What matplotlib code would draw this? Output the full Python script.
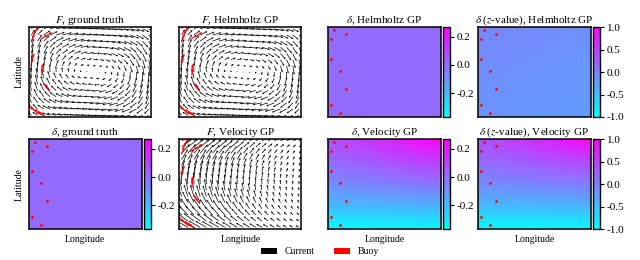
import matplotlib.pyplot as plt
import numpy as np
from matplotlib.patches import Patch

plt.rcParams['font.family'] = 'serif'
plt.rcParams['font.serif'] = ['Liberation Serif', 'DejaVu Serif']
plt.rcParams['mathtext.fontset'] = 'stix'

# grid of the current field
lon = np.linspace(0.02, 0.98, 20)
lat = np.linspace(0.02, 0.98, 15)

# ground truth gyre: stream function profiles along lon and lat
gt_fx = [0.28, 0.43, 0.56, 0.67, 0.76, 0.83, 0.89, 0.94, 0.97, 0.99,
         1.0, 1.0, 0.98, 0.95, 0.9, 0.84, 0.76, 0.66, 0.54, 0.40]
gt_fy = [0.30, 0.46, 0.60, 0.72, 0.82, 0.90, 0.96, 0.99, 0.97, 0.92,
         0.84, 0.74, 0.62, 0.48, 0.32]
# Helmholtz GP reconstruction (almost the same)
hh_fx = [0.29, 0.44, 0.57, 0.68, 0.77, 0.84, 0.90, 0.94, 0.97, 0.99,
         1.0, 0.99, 0.97, 0.94, 0.89, 0.83, 0.75, 0.65, 0.54, 0.41]
hh_fy = [0.31, 0.47, 0.61, 0.73, 0.83, 0.91, 0.96, 0.99, 0.97, 0.92,
         0.84, 0.74, 0.62, 0.49, 0.34]

# velocity GP: u and v profiles
vg_ux = [1.0, 0.99, 0.97, 0.94, 0.9, 0.86, 0.81, 0.76, 0.71, 0.66,
         0.61, 0.56, 0.51, 0.47, 0.43, 0.39, 0.36, 0.33, 0.3, 0.28]
vg_uy = [-1.0, -0.86, -0.72, -0.58, -0.45, -0.32, -0.18, -0.04, 0.1, 0.24,
         0.38, 0.52, 0.66, 0.82, 1.0]
vg_vx = [1.0, 1.0, 0.98, 0.96, 0.93, 0.89, 0.85, 0.8, 0.75, 0.7,
         0.65, 0.6, 0.55, 0.5, 0.45, 0.41, 0.37, 0.33, 0.3, 0.27]
vg_vy = [0.55, 0.65, 0.75, 0.84, 0.91, 0.96, 0.99, 1.0, 0.99, 0.96,
         0.91, 0.84, 0.75, 0.65, 0.55]

# buoys (start points) and their observations
buoy_lon = [0.054, 0.16, 0.03, 0.03, 0.107, 0.16, 0.03, 0.107]
buoy_lat = [0.97, 0.92, 0.87, 0.64, 0.51, 0.31, 0.13, 0.05]
obs_lon = [0.018, 0.03, 0.042, 0.054, 0.09, 0.13, 0.015, 0.025,
           0.105, 0.107, 0.17, 0.155, 0.07, 0.035, 0.13, 0.107]
obs_lat = [0.83, 0.88, 0.92, 0.96, 0.86, 0.89, 0.57, 0.62,
           0.46, 0.50, 0.28, 0.31, 0.04, 0.09, 0.01, 0.04]
obs_u = [0.35, 0.35, 0.5, 0.5, 0.9, 0.9, 0.25, 0.25,
         0.0, 0.0, -0.6, -0.6, -0.9, -0.9, -1.0, -1.0]
obs_v = [1.0, 1.0, 0.9, 0.9, 0.6, 0.6, 1.0, 1.0,
         1.0, 1.0, 0.8, 0.8, 0.8, 0.8, 0.5, 0.5]

# divergence fields (rows: lat bottom -> top, cols: lon left -> right)
gt_delta = [[0.0, 0.0], [0.0, 0.0]]
hh_delta = [[0.0, 0.0], [0.0, 0.0]]
hh_z = [[-0.16, -0.19, -0.23],
        [-0.11, -0.15, -0.19],
        [-0.05, -0.09, -0.13]]
vg_delta = [[-0.37, -0.36, -0.35],
            [-0.20, -0.19, -0.18],
            [-0.08, -0.05, -0.02],
            [0.0, 0.06, 0.12],
            [0.06, 0.17, 0.27]]
vg_z = [[-1.0, -0.98, -0.95],
        [-0.47, -0.45, -0.42],
        [-0.10, -0.03, 0.03],
        [0.15, 0.30, 0.45],
        [0.33, 0.66, 0.98]]

d_lim = (-0.37, 0.27)
z_lim = (-1.0, 1.0)

fig = plt.figure(figsize=(6.4, 2.6), dpi=100)

rows_y = [0.55, 0.119]
h = 0.346
cols = [0.0453, 0.280, 0.5125, 0.747]


def stream_uv(fx, fy):
    psi = np.outer(fy, fx)
    dpy, dpx = np.gradient(psi)
    return -dpy, dpx


def frame(ax):
    ax.set_xticks([])
    ax.set_yticks([])
    ax.set_xlim(0, 1)
    ax.set_ylim(0, 1)
    for s in ax.spines.values():
        s.set_linewidth(1.1)


def quiver_panel(x0, y0, u, v, scale, title):
    ax = fig.add_axes([x0, y0, 0.191, h])
    X, Y = np.meshgrid(lon, lat)
    ax.quiver(X, Y, u, v, angles='uv', scale_units='width', scale=scale,
              units='width', width=0.0058, headwidth=3, headlength=3,
              headaxislength=2.7, color='black')
    ax.quiver(obs_lon, obs_lat, obs_u, obs_v, angles='uv', scale_units='width',
              scale=15, units='width', width=0.009, headwidth=2.5,
              headlength=3, headaxislength=2.7, color='red')
    frame(ax)
    ax.set_title(title, fontsize=8, pad=2)
    return ax


def field_panel(x0, y0, Z, lims, ticks, title):
    ax = fig.add_axes([x0, y0, 0.176, h])
    Z = np.array(Z)
    gx = np.linspace(0, 1, Z.shape[1])
    gy = np.linspace(0, 1, Z.shape[0])
    ax.pcolormesh(gx, gy, Z, shading='gouraud', cmap='cool',
                  vmin=lims[0], vmax=lims[1])
    ax.scatter(buoy_lon, buoy_lat, s=4, color='red', marker='o', linewidths=0)
    frame(ax)
    ax.set_title(title, fontsize=8, pad=2)
    cax = fig.add_axes([x0 + 0.179, y0, 0.011, h])
    sm = plt.cm.ScalarMappable(cmap='cool', norm=plt.Normalize(*lims))
    cb = fig.colorbar(sm, cax=cax, ticks=ticks)
    cb.outline.set_linewidth(1.0)
    cb.ax.tick_params(labelsize=8, length=3, width=0.8, pad=2)
    cb.ax.set_yticklabels(['%.1f' % t for t in ticks])
    return ax


gu, gv = stream_uv(gt_fx, gt_fy)
hu, hv = stream_uv(hh_fx, hh_fy)
vu = np.outer(vg_uy, vg_ux)
vv = np.outer(vg_vy, vg_vx)

d_ticks = [-0.2, 0.0, 0.2]
z_ticks = [-1.0, -0.5, 0.0, 0.5, 1.0]

a1 = quiver_panel(cols[0], rows_y[0], gu, gv, 1.6, r'$F$, ground truth')
quiver_panel(cols[1], rows_y[0], hu, hv, 1.6, r'$F$, Helmholtz GP')
field_panel(cols[2], rows_y[0], hh_delta, d_lim, d_ticks, r'$\delta$, Helmholtz GP')
field_panel(cols[3], rows_y[0], hh_z, z_lim, z_ticks, r'$\delta$ ($z$-value), Helmholtz GP')

b1 = field_panel(cols[0], rows_y[1], gt_delta, d_lim, d_ticks, r'$\delta$, ground truth')
b2 = quiver_panel(cols[1], rows_y[1], vu, vv, 10, r'$F$, Velocity GP')
b3 = field_panel(cols[2], rows_y[1], vg_delta, d_lim, d_ticks, r'$\delta$, Velocity GP')
b4 = field_panel(cols[3], rows_y[1], vg_z, z_lim, z_ticks, r'$\delta$ ($z$-value), Velocity GP')

a1.set_ylabel('Latitude', fontsize=7, labelpad=4)
b1.set_ylabel('Latitude', fontsize=7, labelpad=4)
for ax in [b1, b2, b3, b4]:
    ax.set_xlabel('Longitude', fontsize=7, labelpad=4)

handles = [Patch(facecolor='black', label='Current'),
           Patch(facecolor='red', label='Buoy')]
fig.legend(handles=handles, loc='lower center', ncol=2, frameon=False,
           fontsize=7, bbox_to_anchor=(0.5, -0.02), handlelength=1.6,
           handleheight=0.6, columnspacing=2.0)

fig.savefig('out.png', dpi=100)
